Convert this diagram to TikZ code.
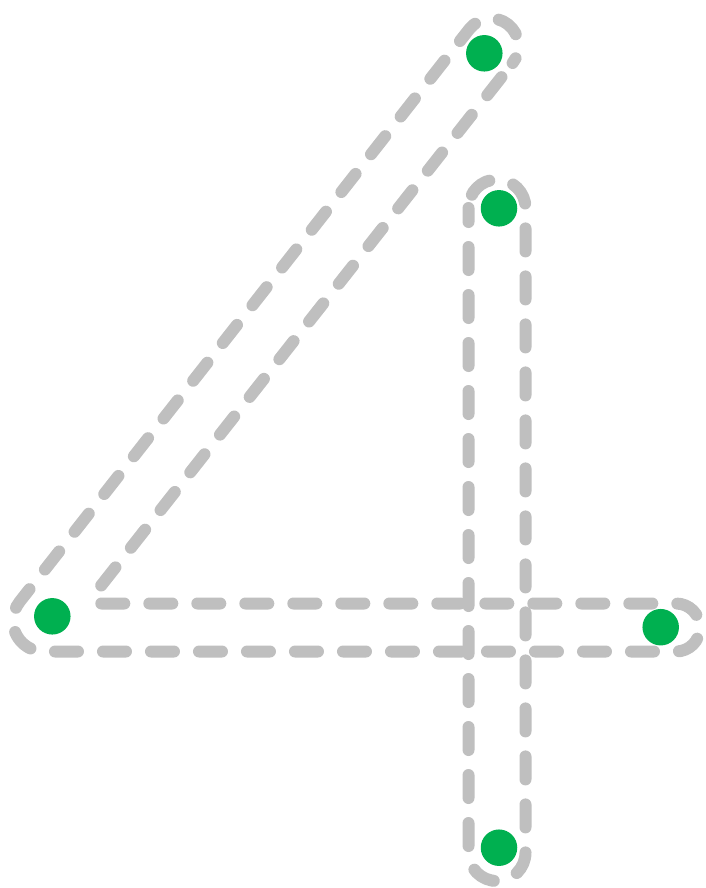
\documentclass[tikz,border=0pt]{standalone}
\definecolor{outlinegray}{HTML}{BFBFBF}
\definecolor{dotgreen}{HTML}{00B050}
\begin{document}
\begin{tikzpicture}[x=1pt,y=-1pt,
  guide/.style={draw=outlinegray, line width=12pt, line cap=round, line join=round},
  dot/.style={circle, fill=dotgreen, draw=none, inner sep=0pt, minimum size=36.5pt}]
\useasboundingbox (0,0) rectangle (705,888);
\coordinate (innercorner) at (87,603.5);
\coordinate (innertop) at (512.6,63);
% stroke 1: horizontal bar, outer diagonal and top cap
\draw[guide, dash pattern=on 23pt off 25pt, dash phase=33.7pt] (innercorner) -- (676,603.5)
  arc[start angle=-90, end angle=90, radius=24]
  -- (43.7,651.5)
  arc[start angle=90, end angle=218.2, radius=30.7]
  -- (469.4,29)
  arc[start angle=218.2, end angle=398.2, radius=27.5];
% stroke 1: inner diagonal
\draw[guide, dash pattern=on 23pt off 25pt, dash phase=30pt] (innertop) -- (innercorner);
% stroke 2: vertical
\draw[guide, dash pattern=on 23pt off 25pt, dash phase=9pt] (468.5,208) -- (468.5,852.5)
  arc[start angle=180, end angle=0, radius=28.5]
  -- (525.5,208)
  arc[start angle=0, end angle=-180, radius=28.5]
  -- cycle;
% dots
\node[dot] (d1) at (484.3,53.3) {};
\node[dot] (d2) at (499,208.3) {};
\node[dot] (d3) at (52.3,616.3) {};
\node[dot] (d4) at (660.7,627.2) {};
\node[dot] (d5) at (499,847.7) {};
\end{tikzpicture}
\end{document}
